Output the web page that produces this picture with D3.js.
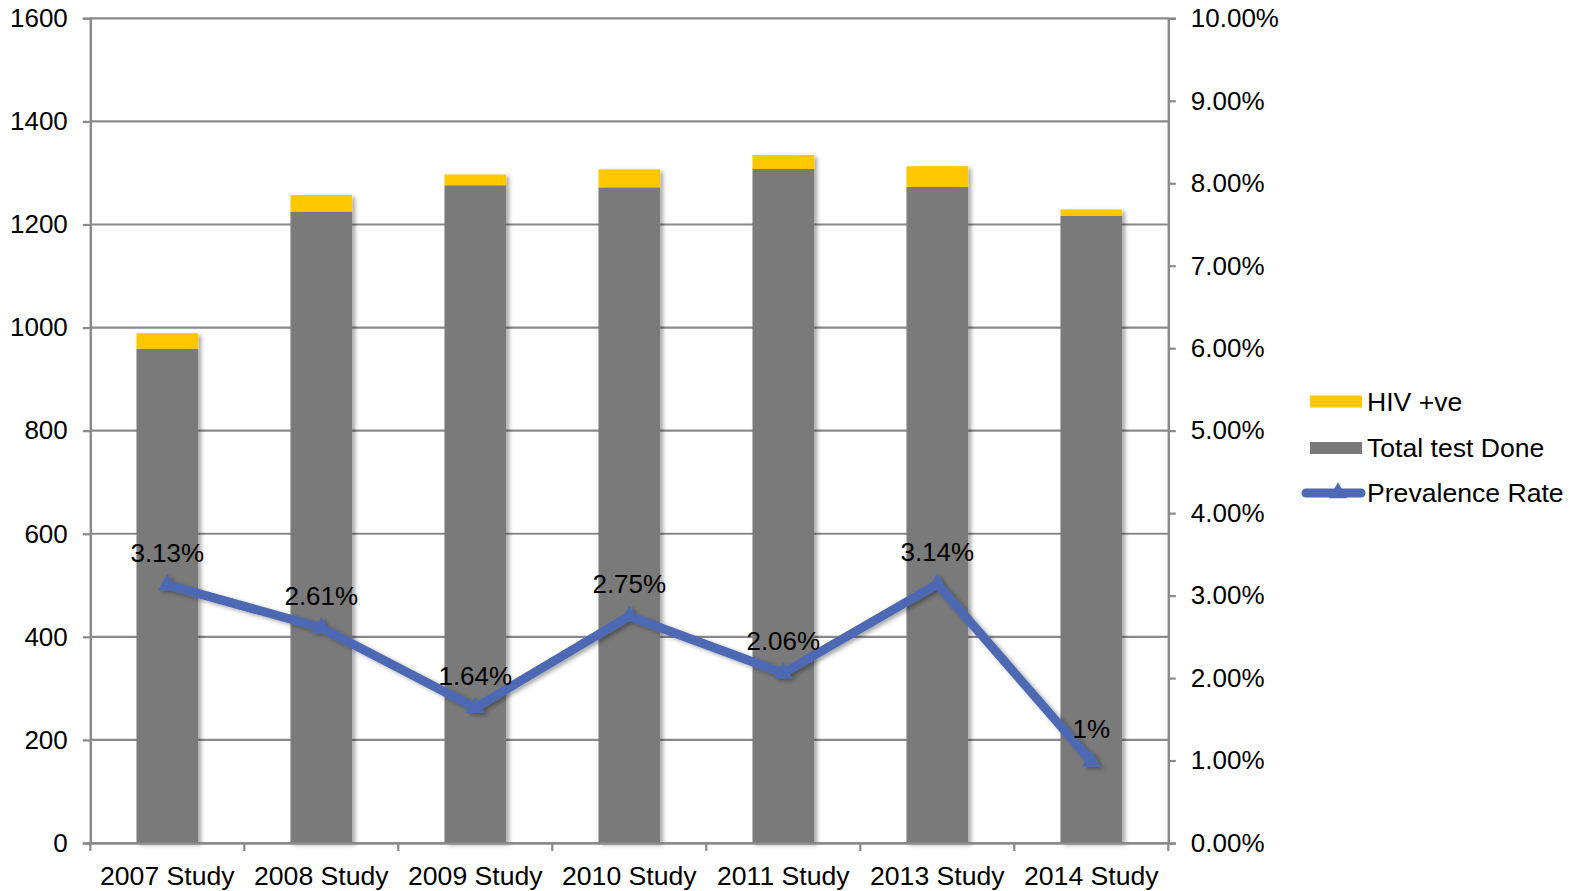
<!DOCTYPE html>
<html>
<head>
<meta charset="utf-8">
<script src="https://cdn.jsdelivr.net/npm/d3@7"></script>
<style>
  html, body { margin: 0; padding: 0; background: #fff; }
  svg { display: block; font-family: "Liberation Sans", Arial, sans-serif; }
</style>
</head>
<body>
<svg id="chart" width="1575" height="891"></svg>
<script>
const categories = ["2007 Study", "2008 Study", "2009 Study", "2010 Study", "2011 Study", "2013 Study", "2014 Study"];
const totalTests = [959, 1225, 1276, 1272, 1308, 1273, 1217];
const hivPositive = [30, 32, 21, 35, 27, 40, 12];
const prevalence = [0.0313, 0.0261, 0.0164, 0.0275, 0.0206, 0.0314, 0.0099];
const prevalenceLabels = ["3.13%", "2.61%", "1.64%", "2.75%", "2.06%", "3.14%", "1%"];
const leftTicks = [0, 200, 400, 600, 800, 1000, 1200, 1400, 1600];
const rightTicks = [0, 0.01, 0.02, 0.03, 0.04, 0.05, 0.06, 0.07, 0.08, 0.09, 0.10];
const seriesNames = ["HIV +ve", "Total test Done", "Prevalence Rate"];

const COL_YELLOW = "#FFC800";
const COL_GRAY = "#7A7A7A";
const COL_BLUE = "#4D69B3";
const COL_GRID = "#8A8A8A";
const FONT = 26;
const FONT_L = 26.6;

const svg = d3.select("#chart");
const L = 90.3, R = 1168.3, T = 18.3, B = 843;

const x = d3.scaleBand().domain(categories).range([L, R]).paddingInner(0.6).paddingOuter(0.3);
const y = d3.scaleLinear().domain([0, 1600]).range([B, T]);
const yR = d3.scaleLinear().domain([0, 0.10]).range([B, T]);

const defs = svg.append("defs");
const f = defs.append("filter").attr("id", "shadow").attr("x", "-20%").attr("y", "-20%").attr("width", "150%").attr("height", "150%");
f.append("feDropShadow").attr("dx", 3).attr("dy", 2).attr("stdDeviation", 2.2).attr("flood-color", "#000").attr("flood-opacity", 0.35);

// gridlines
svg.append("g").selectAll("line").data(leftTicks).join("line")
  .attr("x1", L).attr("x2", R)
  .attr("y1", d => y(d)).attr("y2", d => y(d))
  .attr("stroke", COL_GRID).attr("stroke-width", 2.2);

// bars
const data = categories.map((c, i) => ({ c, total: totalTests[i], hiv: hivPositive[i] }));
const gb = svg.append("g");
gb.selectAll("g.bar").data(data).join("g").attr("class", "bar").attr("filter", "url(#shadow)")
  .each(function (d) {
    const g = d3.select(this);
    g.append("rect").attr("x", x(d.c)).attr("width", x.bandwidth())
      .attr("y", y(d.total)).attr("height", y(0) - y(d.total)).attr("fill", COL_GRAY);
    g.append("rect").attr("x", x(d.c)).attr("width", x.bandwidth())
      .attr("y", y(d.total + d.hiv)).attr("height", y(d.total) - y(d.total + d.hiv)).attr("fill", COL_YELLOW);
  });

// left axis
const la = svg.append("g").attr("transform", `translate(${L},0)`)
  .call(d3.axisLeft(y).tickValues(leftTicks).tickSize(7.5).tickPadding(15).tickFormat(d3.format("d")));
la.select(".domain").attr("stroke", COL_GRID).attr("stroke-width", 2.5);
la.selectAll(".tick line").attr("stroke", COL_GRID).attr("stroke-width", 2.2);
la.selectAll("text").attr("font-size", FONT).attr("fill", "#000").attr("font-family", "Liberation Sans, Arial, sans-serif");

// right axis
const ra = svg.append("g").attr("transform", `translate(${R},0)`)
  .call(d3.axisRight(yR).tickValues(rightTicks).tickSize(7.5).tickPadding(15).tickFormat(d3.format(".2%")));
ra.select(".domain").attr("stroke", COL_GRID).attr("stroke-width", 2.5);
ra.selectAll(".tick line").attr("stroke", COL_GRID).attr("stroke-width", 2.2);
ra.selectAll("text").attr("font-size", FONT).attr("fill", "#000").attr("font-family", "Liberation Sans, Arial, sans-serif");

// bottom axis
const ba = svg.append("g").attr("transform", `translate(0,${B})`)
  .call(d3.axisBottom(x).tickSize(0).tickPadding(23));
ba.select(".domain").attr("stroke", COL_GRID).attr("stroke-width", 2.5);
ba.selectAll("text").attr("font-size", FONT_L).attr("fill", "#000").attr("font-family", "Liberation Sans, Arial, sans-serif");
const boundaries = d3.range(categories.length + 1).map(i => L + i * x.step());
svg.append("g").selectAll("line").data(boundaries).join("line")
  .attr("x1", d => d).attr("x2", d => d).attr("y1", B).attr("y2", B + 8)
  .attr("stroke", COL_GRID).attr("stroke-width", 2.2);

// prevalence line
const pts = categories.map((c, i) => ({ c, v: prevalence[i], label: prevalenceLabels[i] }));
const cx = d => x(d.c) + x.bandwidth() / 2;
const gl = svg.append("g").attr("filter", "url(#shadow)");
gl.append("path").datum(pts)
  .attr("d", d3.line().x(cx).y(d => yR(d.v)))
  .attr("fill", "none").attr("stroke", COL_BLUE).attr("stroke-width", 9).attr("stroke-linejoin", "round").attr("stroke-linecap", "round");
const tri = d3.symbol().type(d3.symbolTriangle).size(150);
gl.selectAll("path.m").data(pts).join("path").attr("class", "m")
  .attr("transform", d => `translate(${cx(d)},${yR(d.v)})`)
  .attr("d", tri).attr("fill", COL_BLUE);

// data labels
svg.append("g").selectAll("text").data(pts).join("text")
  .attr("x", cx).attr("y", d => yR(d.v) - 23)
  .attr("text-anchor", "middle").attr("font-size", FONT).attr("fill", "#000")
  .text(d => d.label);

// legend
const lg = svg.append("g");
const lx = 1310, lw = 52, ly = [401.5, 448, 493], tx = 1367;
lg.append("rect").attr("x", lx).attr("y", ly[0] - 6).attr("width", lw).attr("height", 12).attr("fill", COL_YELLOW);
lg.append("rect").attr("x", lx).attr("y", ly[1] - 6).attr("width", lw).attr("height", 12).attr("fill", COL_GRAY);
lg.append("line").attr("x1", lx - 4).attr("x2", lx + lw - 1).attr("y1", ly[2]).attr("y2", ly[2])
  .attr("stroke", COL_BLUE).attr("stroke-width", 9).attr("stroke-linecap", "round");
lg.append("path").attr("transform", `translate(${lx + lw / 2 + 2},${ly[2]})`).attr("d", tri).attr("fill", COL_BLUE);
lg.selectAll("text").data(seriesNames).join("text")
  .attr("x", tx).attr("y", (d, i) => ly[i]).attr("dy", "0.35em")
  .attr("font-size", FONT_L).attr("fill", "#000").text(d => d);
</script>
</body>
</html>
